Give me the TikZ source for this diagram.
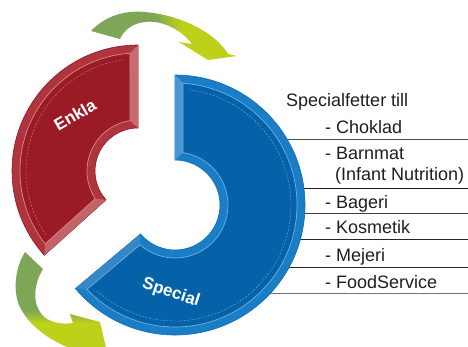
\documentclass[tikz,border=0pt]{standalone}
\usepackage{fontspec}
\setmainfont{Liberation Sans}
\usetikzlibrary{calc}
\definecolor{agreen}{HTML}{7DA657}
\definecolor{ayellow}{HTML}{BDD11A}
\definecolor{bluerim}{HTML}{1A7EC6}
\definecolor{bluemain}{HTML}{0662A8}
\definecolor{bluefacet}{HTML}{4B97D2}
\definecolor{bluehi}{HTML}{6AB2E6}
\definecolor{blueedge}{HTML}{0B6CB4}
\definecolor{redrim}{HTML}{B0343D}
\definecolor{redmain}{HTML}{9A1B26}
\definecolor{redfacet}{HTML}{C56B71}
\definecolor{redhi}{HTML}{D88A8F}
\definecolor{rededge}{HTML}{8E1822}
\definecolor{txt}{HTML}{1E1E1E}
\pgfdeclarehorizontalshading{toparrowshade}{100bp}{color(0bp)=(agreen); color(47bp)=(agreen); color(56bp)=(ayellow); color(100bp)=(ayellow)}
\pgfdeclareverticalshading{botarrowshade}{100bp}{color(0bp)=(ayellow); color(41bp)=(ayellow); color(47bp)=(agreen); color(100bp)=(agreen)}
\tikzset{
  rulestyle/.style={line width=0.9pt, draw=#1},
  item/.style={anchor=base west, inner sep=0pt, font=\fontsize{18}{20}\selectfont, text=txt},
  ringlabel/.style={text=white, font=\bfseries\fontsize{17}{18}\selectfont, inner sep=0pt},
  dashring/.style={draw=white, opacity=0.45, line width=0.4pt, dash pattern=on 2pt off 1.5pt},
}
\begin{document}
\begin{tikzpicture}[x=1pt,y=-1pt]
\useasboundingbox (0,0) rectangle (468,346);
\clip (0,0) rectangle (468,346);

% rules behind the blue ring
\draw[rulestyle=black!70] (240,139) -- (468,139);
\draw[rulestyle=black!88] (240,188) -- (468,188);
\draw[rulestyle=black!75] (240,213) -- (468,213);
\draw[rulestyle=black!85] (240,239) -- (468,239);
\draw[rulestyle=black!85] (240,267) -- (468,267);
\draw[rulestyle=black!55] (240,293) -- (468,293);

% arrows
\shade[shading=toparrowshade] (91,31) .. controls (105,16) and (125,10) .. (145,12)
  .. controls (180,15) and (215,32) .. (228,54) -- (237,56) -- (208,60) -- (179,42) -- (192,44)
  .. controls (180,28) and (160,20) .. (145,22) .. controls (133,23) and (124,30) .. (120,39) -- cycle;
\shade[shading=botarrowshade] (25,252) -- (43,269) .. controls (33,285) and (31,308) .. (47,319)
  .. controls (56,324) and (65,324) .. (73,323) -- (70,314) -- (100,322) -- (108,356) -- (95,356)
  .. controls (60,348) and (30,330) .. (19,305) .. controls (13,290) and (15,268) .. (25,252) -- cycle;

% blue ring
\coordinate (bc) at (175,205);
\fill[bluerim, draw=blueedge, line width=0.6pt] ($(bc)+(-90:130)$) arc[start angle=-90,end angle=140,radius=130]
  -- ($(bc)+(140:45)$) arc[start angle=140,end angle=-90,radius=45] -- cycle;
\fill[bluefacet] ($(bc)+(-90:130)$) -- ($(bc)+(-86.24:122)$) -- ($(bc)+(-81.32:53)$) -- ($(bc)+(-90:45)$) -- cycle;
\fill[bluefacet!70!bluemain] ($(bc)+(140:130)$) -- ($(bc)+(136.24:122)$) -- ($(bc)+(131.32:53)$) -- ($(bc)+(140:45)$) -- cycle;
\filldraw[fill=bluemain, draw=bluehi, line width=0.7pt] ($(bc)+(-86.24:122)$) arc[start angle=-86.24,end angle=136.24,radius=122]
  -- ($(bc)+(131.32:53)$) arc[start angle=131.32,end angle=-81.32,radius=53] -- cycle;
\draw[dashring] ($(bc)+(-83.07:116)$) arc[start angle=-83.07,end angle=133.07,radius=116];

% red ring
\coordinate (rc) at (138,171);
\fill[redrim, draw=rededge, line width=0.6pt] ($(rc)+(-90:126)$) arc[start angle=-90,end angle=-222,radius=126]
  -- ($(rc)+(-222:43)$) arc[start angle=-222,end angle=-90,radius=43] -- cycle;
\fill[redfacet] ($(rc)+(-90:126)$) -- ($(rc)+(-93.89:118)$) -- ($(rc)+(-99.02:51)$) -- ($(rc)+(-90:43)$) -- cycle;
\fill[redfacet!85!redrim] ($(rc)+(-222:126)$) -- ($(rc)+(-218.11:118)$) -- ($(rc)+(-212.98:51)$) -- ($(rc)+(-222:43)$) -- cycle;
\filldraw[fill=redmain, draw=redhi, line width=0.7pt] ($(rc)+(-93.89:118)$) arc[start angle=-93.89,end angle=-218.11,radius=118]
  -- ($(rc)+(-212.98:51)$) arc[start angle=-212.98,end angle=-99.02,radius=51] -- cycle;
\draw[dashring] ($(rc)+(-97.18:112)$) arc[start angle=-97.18,end angle=-214.82,radius=112];

% ring labels
\node[ringlabel, rotate=30] (enkla) at (75,115) {Enkla};
\node[ringlabel, rotate=-18] (special) at (171,293) {Special};

% text list
\node[item] (head) at (286,106) {Specialfetter till};
\node[item] (i1) at (325,133) {- Choklad};
\node[item] (i2) at (325,159) {- Barnmat};
\node[item] (i2b) at (335,180) {(Infant Nutrition)};
\node[item] (i3) at (325,208) {- Bageri};
\node[item] (i4) at (325,233) {- Kosmetik};
\node[item] (i5) at (325,261) {- Mejeri};
\node[item] (i6) at (325,288) {- FoodService};
\end{tikzpicture}
\end{document}
